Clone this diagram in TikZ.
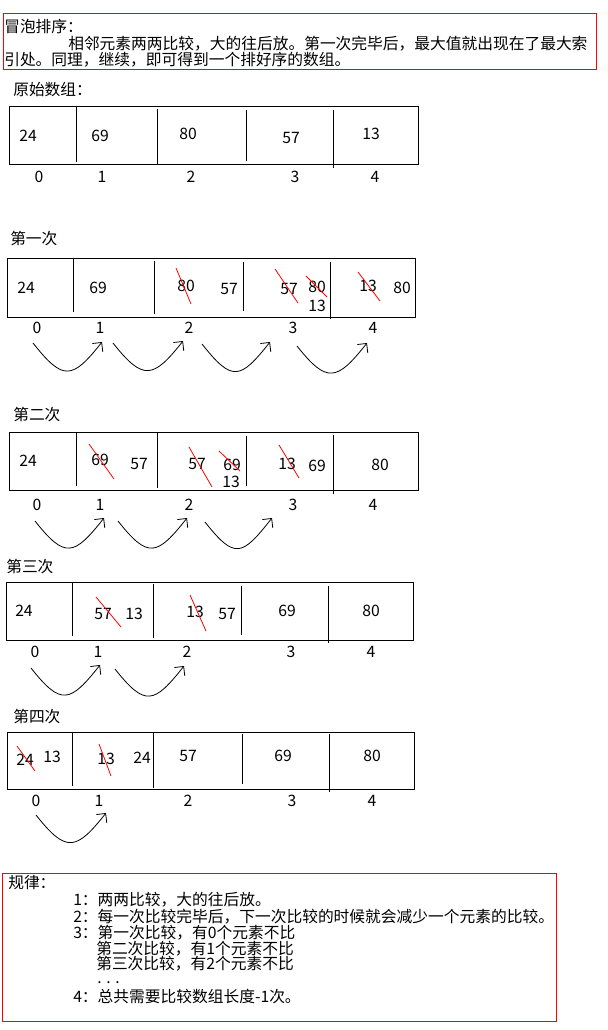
\documentclass[tikz,border=0pt]{standalone}
\usepackage{fontspec}
\setmainfont{Noto Sans CJK SC}
\usepackage{tikz}
\usetikzlibrary{arrows.meta}
\tikzstyle{arraybox}=[draw,line width=0.75pt]
\tikzstyle{notebox}=[draw=red,line width=0.75pt]

\begin{document}
\begin{tikzpicture}[x=0.75pt,y=-0.75pt,>={Straight Barb[length=5pt,width=10pt]},font=\fontsize{11.8pt}{12pt}\selectfont]

\tikzstyle{divider} = [line width=0.75pt]
\tikzstyle{num} = [inner sep=0pt]
\tikzstyle{txt} = [inner sep=0pt, anchor=west]
\tikzstyle{strike} = [draw=red, line width=0.6pt]
\tikzstyle{hop} = [->, line width=0.6pt]

\useasboundingbox (0,0) rectangle (607,1030);

% Intro
\draw [notebox] (3,14) rectangle (596,70);
\node [txt] (t1) at (4,27) {冒泡排序：};
\node [txt] (t2) at (68,44) {相邻元素两两比较，大的往后放。第一次完毕后，最大值就出现在了最大索};
\node [txt] (t3) at (4,60) {引处。同理，继续，即可得到一个排好序的数组。};

% Original array
\node [txt] (p0) at (13,90) {原始数组：};
\draw [arraybox] (9,107) rectangle (418,165);
\draw [divider] (76,107) -- (76,162);
\draw [divider] (157,109) -- (157,164);
\draw [divider] (246,110) -- (246,161);
\draw [divider] (333,110) -- (333,168);
\node [num] (p0v0) at (28,136) {24};
\node [num] (p0v1) at (100,136) {69};
\node [num] (p0v2) at (188,134) {80};
\node [num] (p0v3) at (291,138) {57};
\node [num] (p0v4) at (371,134) {13};
\node [num] (p0i0) at (39,177) {0};
\node [num] (p0i1) at (102,177) {1};
\node [num] (p0i2) at (191,177) {2};
\node [num] (p0i3) at (295,177) {3};
\node [num] (p0i4) at (375,177) {4};

% First pass
\node [txt] (p1) at (10,239) {第一次};
\draw [arraybox] (7,259) rectangle (415,317);
\draw [divider] (73,259) -- (73,312);
\draw [divider] (154,261) -- (154,314);
\draw [divider] (243,262) -- (243,311);
\draw [divider] (330,262) -- (330,319);
\node [num] (p1v0) at (26,288) {24};
\node [num] (p1v1) at (98,288) {69};
\node [num] (p1v2) at (186,286) {80};
\node [num] (p1v3) at (229,289) {57};
\node [num] (p1v4) at (289,289) {57};
\node [num] (p1v5) at (317,287) {80};
\node [num] (p1v6) at (317,306) {13};
\node [num] (p1v7) at (368,286) {13};
\node [num] (p1v8) at (402,288) {80};
\draw [strike] (176,268) -- (191,304);
\draw [strike] (275,269) -- (298,303);
\draw [strike] (306,276) -- (327,297);
\draw [strike] (358,272) -- (380,301);
\node [num] (p1i0) at (37,328) {0};
\node [num] (p1i1) at (100,328) {1};
\node [num] (p1i2) at (189,328) {2};
\node [num] (p1i3) at (293,328) {3};
\node [num] (p1i4) at (373,328) {4};
\coordinate (p1a) at (33,343);
\coordinate (p1b) at (102,342);
\coordinate (p1c) at (113,343);
\coordinate (p1d) at (183,341);
\coordinate (p1e) at (202,344);
\coordinate (p1f) at (270,342);
\coordinate (p1g) at (297,346);
\coordinate (p1h) at (367,343);
\draw [hop] (p1a) .. controls +(30,38) and +(-30,38) .. (p1b);
\draw [hop] (p1c) .. controls +(30,38) and +(-30,38) .. (p1d);
\draw [hop] (p1e) .. controls +(30,38) and +(-30,38) .. (p1f);
\draw [hop] (p1g) .. controls +(30,38) and +(-30,38) .. (p1h);

% Second pass
\node [txt] (p2) at (13,415) {第二次};
\draw [arraybox] (9,432) rectangle (418,490);
\draw [divider] (76,433) -- (76,486);
\draw [divider] (157,433) -- (157,488);
\draw [divider] (246,436) -- (246,486);
\draw [divider] (333,435) -- (333,494);
\node [num] (p2v0) at (28,461) {24};
\node [num] (p2v1) at (100,460) {69};
\node [num] (p2v2) at (139,464) {57};
\node [num] (p2v3) at (197,464) {57};
\node [num] (p2v4) at (232,465) {69};
\node [num] (p2v5) at (231,482) {13};
\node [num] (p2v6) at (287,464) {13};
\node [num] (p2v7) at (317,466) {69};
\node [num] (p2v8) at (380,465) {80};
\draw [strike] (89,444) -- (114,479);
\draw [strike] (189,447) -- (212,487);
\draw [strike] (219,451) -- (240,471);
\draw [strike] (279,445) -- (299,478);
\node [num] (p2i0) at (37,505) {0};
\node [num] (p2i1) at (100,505) {1};
\node [num] (p2i2) at (189,505) {2};
\node [num] (p2i3) at (293,505) {3};
\node [num] (p2i4) at (373,505) {4};
\coordinate (p2a) at (35,521);
\coordinate (p2b) at (104,518);
\coordinate (p2c) at (118,521);
\coordinate (p2d) at (187,518);
\coordinate (p2e) at (205,522);
\coordinate (p2f) at (272,518);
\draw [hop] (p2a) .. controls +(30,38) and +(-30,38) .. (p2b);
\draw [hop] (p2c) .. controls +(30,38) and +(-30,38) .. (p2d);
\draw [hop] (p2e) .. controls +(30,38) and +(-30,38) .. (p2f);

% Third pass
\node [txt] (p3) at (6,567) {第三次};
\draw [arraybox] (6,582) rectangle (413,640);
\draw [divider] (72,583) -- (72,636);
\draw [divider] (153,584) -- (153,638);
\draw [divider] (241,586) -- (241,635);
\draw [divider] (328,586) -- (328,643);
\node [num] (p3v0) at (24,611) {24};
\node [num] (p3v1) at (103,614) {57};
\node [num] (p3v2) at (134,614) {13};
\node [num] (p3v3) at (195,612) {13};
\node [num] (p3v4) at (227,614) {57};
\node [num] (p3v5) at (287,611) {69};
\node [num] (p3v6) at (371,611) {80};
\draw [strike] (96,597) -- (121,627);
\draw [strike] (190,595) -- (206,631);
\node [num] (p3i0) at (35,652) {0};
\node [num] (p3i1) at (98,652) {1};
\node [num] (p3i2) at (187,652) {2};
\node [num] (p3i3) at (291,652) {3};
\node [num] (p3i4) at (371,652) {4};
\coordinate (p3a) at (31,668);
\coordinate (p3b) at (100,665);
\coordinate (p3c) at (115,669);
\coordinate (p3d) at (184,666);
\draw [hop] (p3a) .. controls +(30,38) and +(-30,38) .. (p3b);
\draw [hop] (p3c) .. controls +(30,38) and +(-30,38) .. (p3d);

% Fourth pass
\node [txt] (p4) at (13,717) {第四次};
\draw [arraybox] (7,732) rectangle (414,789);
\draw [divider] (72,733) -- (72,786);
\draw [divider] (153,733) -- (153,788);
\draw [divider] (242,734) -- (242,784);
\draw [divider] (329,734) -- (329,792);
\node [num] (p4v0) at (25,760) {24};
\node [num] (p4v1) at (52,757) {13};
\node [num] (p4v2) at (106,759) {13};
\node [num] (p4v3) at (142,758) {24};
\node [num] (p4v4) at (188,756) {57};
\node [num] (p4v5) at (283,756) {69};
\node [num] (p4v6) at (372,756) {80};
\draw [strike] (17,746) -- (35,771);
\draw [strike] (99,744) -- (111,776);
\node [num] (p4i0) at (36,801) {0};
\node [num] (p4i1) at (99,801) {1};
\node [num] (p4i2) at (188,801) {2};
\node [num] (p4i3) at (292,801) {3};
\node [num] (p4i4) at (372,801) {4};
\coordinate (p4a) at (36,815);
\coordinate (p4b) at (106,813);
\draw [hop] (p4a) .. controls +(30,38) and +(-30,38) .. (p4b);

% Rules
\draw [notebox] (2,873) rectangle (556,1021);
\node [txt] (r0) at (8,883) {规律：};
\node [txt] (r1) at (73,900) {1：两两比较，大的往后放。};
\node [txt] (r2) at (73,917) {2：每一次比较完毕后，下一次比较的时候就会减少一个元素的比较。};
\node [txt] (r3) at (73,933) {3：第一次比较，有0个元素不比};
\node [txt] (r4) at (96,949) {第二次比较，有1个元素不比};
\node [txt] (r5) at (96,964) {第三次比较，有2个元素不比};
\node [txt] (r6) at (97,983) {. . .};
\node [txt] (r7) at (73,997) {4：总共需要比较数组长度-1次。};

\end{tikzpicture}
\end{document}
